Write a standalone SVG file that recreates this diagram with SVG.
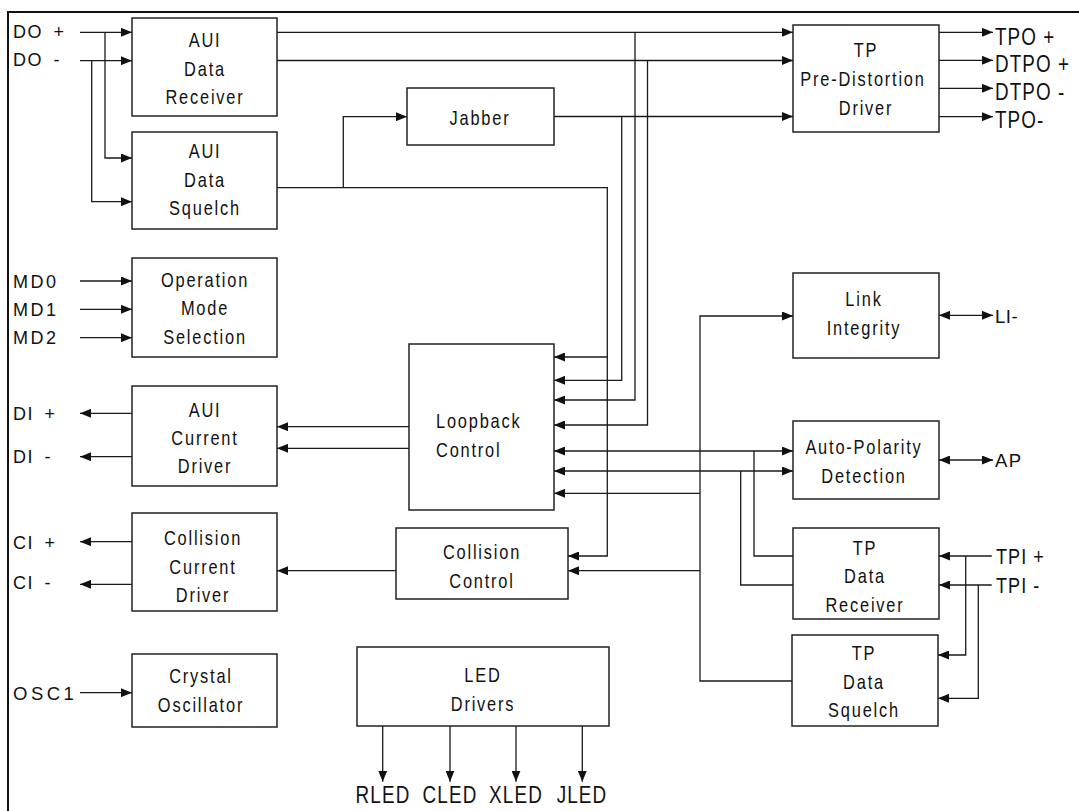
<svg xmlns="http://www.w3.org/2000/svg" width="1079" height="811" viewBox="0 0 1079 811">
<defs>
<marker id="arr" markerUnits="userSpaceOnUse" markerWidth="11" markerHeight="9" refX="11" refY="4.5" orient="auto-start-reverse" viewBox="0 0 11 9">
<path d="M0,0 L11,4.5 L0,9 z" fill="#111"/>
</marker>
<style>
rect.box{fill:#fff;stroke:#222;stroke-width:1.5}
text{font-family:"Liberation Sans",Arial,sans-serif;fill:#111}
.bt{font-size:20px;letter-spacing:2.2px;text-anchor:middle}
.bl{font-size:20px;letter-spacing:2.2px}
.lbl{font-size:18px;letter-spacing:1.5px}
.rl{font-size:23px;letter-spacing:1.3px}
.led{font-size:23px;letter-spacing:1.4px;text-anchor:middle}
#connectors path{fill:none;stroke:#1a1a1a;stroke-width:1.3}
.a{marker-end:url(#arr)}
.b{marker-start:url(#arr);marker-end:url(#arr)}
</style>
</defs>
<rect width="1079" height="811" fill="#fff"/>
<path d="M8,811 V12 H1079" fill="none" stroke="#111" stroke-width="2"/>

<g id="connectors">
<path class="a" d="M80,32.3 H132"/>
<path class="a" d="M105,32.3 V158 H132"/>
<path class="a" d="M80,60.7 H132"/>
<path class="a" d="M91.7,60.7 V201.7 H132"/>
<path class="a" d="M277,32.3 H793"/>
<path class="a" d="M635,32.3 V400 H554"/>
<path class="a" d="M277,60.5 H793"/>
<path class="a" d="M647.5,60.5 V425 H554"/>
<path class="a" d="M277,187.7 H607.3 V556 H568"/>
<path class="a" d="M343.3,187.7 V116.7 H407"/>
<path class="a" d="M607.3,357 H554"/>
<path class="a" d="M554,116.5 H793"/>
<path class="a" d="M621.7,116.5 V380.3 H554"/>
<path class="a" d="M939,32.3 H993"/>
<path class="a" d="M939,60.3 H993"/>
<path class="a" d="M939,88.3 H993"/>
<path class="a" d="M939,116.7 H993"/>
<path class="a" d="M80,281 H132"/>
<path class="a" d="M80,309.3 H132"/>
<path class="a" d="M80,337.7 H132"/>
<path class="a" d="M409,426.7 H277"/>
<path class="a" d="M409,448.3 H277"/>
<path class="a" d="M132,413.3 H80"/>
<path class="a" d="M132,456.7 H80"/>
<path class="b" d="M554,451 H793"/>
<path class="b" d="M554,471 H793"/>
<path d="M793,556 H754 V451"/>
<path d="M793,585 H740.7 V471"/>
<path class="a" d="M792,681 H700 V316 H793"/>
<path class="a" d="M700,493.3 H554"/>
<path class="a" d="M700,570.7 H568"/>
<path class="a" d="M396,570.7 H277"/>
<path class="a" d="M132,541.7 H80"/>
<path class="a" d="M132,584.3 H80"/>
<path class="a" d="M80,692.7 H132"/>
<path class="a" d="M382.7,726 V781.7"/>
<path class="a" d="M450,726 V781.7"/>
<path class="a" d="M516,726 V781.7"/>
<path class="a" d="M582.3,726 V781.7"/>
<path class="b" d="M939,315.3 H993"/>
<path class="b" d="M939,460 H993"/>
<path class="a" d="M991.7,556 H939"/>
<path class="a" d="M965.7,556 V655 H938"/>
<path class="a" d="M991.7,585 H939"/>
<path class="a" d="M978.3,585 V698.3 H938"/>
</g>

<g id="aui-data-receiver">
<rect class="box" x="132" y="18" width="145" height="98"/>
<text class="bt" transform="translate(205,47) scale(.82,1)">AUI</text>
<text class="bt" transform="translate(205,76) scale(.82,1)">Data</text>
<text class="bt" transform="translate(205,104) scale(.82,1)">Receiver</text>
</g>
<g id="aui-data-squelch">
<rect class="box" x="132" y="132" width="145" height="97"/>
<text class="bt" transform="translate(205,158) scale(.82,1)">AUI</text>
<text class="bt" transform="translate(205,186.5) scale(.82,1)">Data</text>
<text class="bt" transform="translate(205,215) scale(.82,1)">Squelch</text>
</g>
<g id="jabber">
<rect class="box" x="407" y="88" width="147" height="57"/>
<text class="bt" transform="translate(480,125) scale(.82,1)">Jabber</text>
</g>
<g id="tp-pre-distortion-driver">
<rect class="box" x="793" y="25" width="146" height="107"/>
<text class="bt" transform="translate(866,57) scale(.82,1)">TP</text>
<text class="bt" transform="translate(863,86) scale(.82,1)">Pre-Distortion</text>
<text class="bt" transform="translate(866,115) scale(.82,1)">Driver</text>
</g>
<g id="operation-mode-selection">
<rect class="box" x="132" y="258" width="145" height="99"/>
<text class="bt" transform="translate(205,286.5) scale(.82,1)">Operation</text>
<text class="bt" transform="translate(205,315) scale(.82,1)">Mode</text>
<text class="bt" transform="translate(205,344) scale(.82,1)">Selection</text>
</g>
<g id="loopback-control">
<rect class="box" x="409" y="344" width="145" height="166"/>
<text class="bl" transform="translate(436,428) scale(.82,1)">Loopback</text>
<text class="bl" transform="translate(436,456.5) scale(.82,1)">Control</text>
</g>
<g id="aui-current-driver">
<rect class="box" x="132" y="386" width="145" height="100"/>
<text class="bt" transform="translate(205,416.5) scale(.82,1)">AUI</text>
<text class="bt" transform="translate(205,444.5) scale(.82,1)">Current</text>
<text class="bt" transform="translate(205,473) scale(.82,1)">Driver</text>
</g>
<g id="link-integrity">
<rect class="box" x="793" y="273" width="146" height="85"/>
<text class="bt" transform="translate(864,306) scale(.82,1)">Link</text>
<text class="bt" transform="translate(864,335) scale(.82,1)">Integrity</text>
</g>
<g id="auto-polarity-detection">
<rect class="box" x="793" y="421" width="146" height="78"/>
<text class="bt" transform="translate(864,454) scale(.82,1)">Auto-Polarity</text>
<text class="bt" transform="translate(864,483) scale(.82,1)">Detection</text>
</g>
<g id="collision-current-driver">
<rect class="box" x="132" y="513" width="145" height="98"/>
<text class="bt" transform="translate(203,545) scale(.82,1)">Collision</text>
<text class="bt" transform="translate(203,573.5) scale(.82,1)">Current</text>
<text class="bt" transform="translate(203,601.5) scale(.82,1)">Driver</text>
</g>
<g id="collision-control">
<rect class="box" x="396" y="528" width="172" height="71"/>
<text class="bt" transform="translate(482,559) scale(.82,1)">Collision</text>
<text class="bt" transform="translate(482,587.5) scale(.82,1)">Control</text>
</g>
<g id="tp-data-receiver">
<rect class="box" x="793" y="528" width="146" height="91"/>
<text class="bt" transform="translate(865,554.5) scale(.82,1)">TP</text>
<text class="bt" transform="translate(865,583) scale(.82,1)">Data</text>
<text class="bt" transform="translate(865,611.5) scale(.82,1)">Receiver</text>
</g>
<g id="tp-data-squelch">
<rect class="box" x="792" y="635" width="146" height="91"/>
<text class="bt" transform="translate(864,660) scale(.82,1)">TP</text>
<text class="bt" transform="translate(864,688.5) scale(.82,1)">Data</text>
<text class="bt" transform="translate(864,716.5) scale(.82,1)">Squelch</text>
</g>
<g id="crystal-oscillator">
<rect class="box" x="132" y="654" width="145" height="73"/>
<text class="bt" transform="translate(201,683) scale(.82,1)">Crystal</text>
<text class="bt" transform="translate(201,711.5) scale(.82,1)">Oscillator</text>
</g>
<g id="led-drivers">
<rect class="box" x="357" y="647" width="252" height="79"/>
<text class="bt" transform="translate(483,681.5) scale(.82,1)">LED</text>
<text class="bt" transform="translate(483,710.5) scale(.82,1)">Drivers</text>
</g>

<g id="pins">
<text class="lbl" x="13" y="37.7" style="word-spacing:4px">DO +</text>
<text class="lbl" x="13" y="66" style="word-spacing:4px">DO -</text>
<text class="lbl" x="13" y="287.7" style="letter-spacing:2.5px">MD0</text>
<text class="lbl" x="13" y="316" style="letter-spacing:2.5px">MD1</text>
<text class="lbl" x="13" y="344.3" style="letter-spacing:2.5px">MD2</text>
<text class="lbl" x="13" y="420" style="word-spacing:4px">DI +</text>
<text class="lbl" x="13" y="462.7" style="word-spacing:4px">DI -</text>
<text class="lbl" x="13" y="549" style="word-spacing:4px">CI +</text>
<text class="lbl" x="13" y="589.3" style="word-spacing:4px">CI -</text>
<text class="lbl" x="13" y="700" style="font-size:18.5px;letter-spacing:3.5px">OSC1</text>
<text class="rl" transform="translate(995,45) scale(.82,1)">TPO +</text>
<text class="rl" transform="translate(995,71.7) scale(.82,1)">DTPO +</text>
<text class="rl" transform="translate(995,100) scale(.82,1)">DTPO -</text>
<text class="rl" transform="translate(995,128.3) scale(.82,1)">TPO-</text>
<text class="lbl" x="995" y="323" style="font-size:18.5px;letter-spacing:0.5px">LI-</text>
<text class="lbl" x="995" y="466.7" style="font-size:18.5px;letter-spacing:1.5px">AP</text>
<text class="rl" transform="translate(996,564) scale(.82,1)" style="font-size:22px">TPI +</text>
<text class="rl" transform="translate(996,593) scale(.82,1)" style="font-size:22px">TPI -</text>
<text class="led" transform="translate(383,803) scale(.82,1)">RLED</text>
<text class="led" transform="translate(450,803) scale(.82,1)">CLED</text>
<text class="led" transform="translate(516,803) scale(.82,1)">XLED</text>
<text class="led" transform="translate(582,803) scale(.82,1)">JLED</text>
</g>
</svg>
